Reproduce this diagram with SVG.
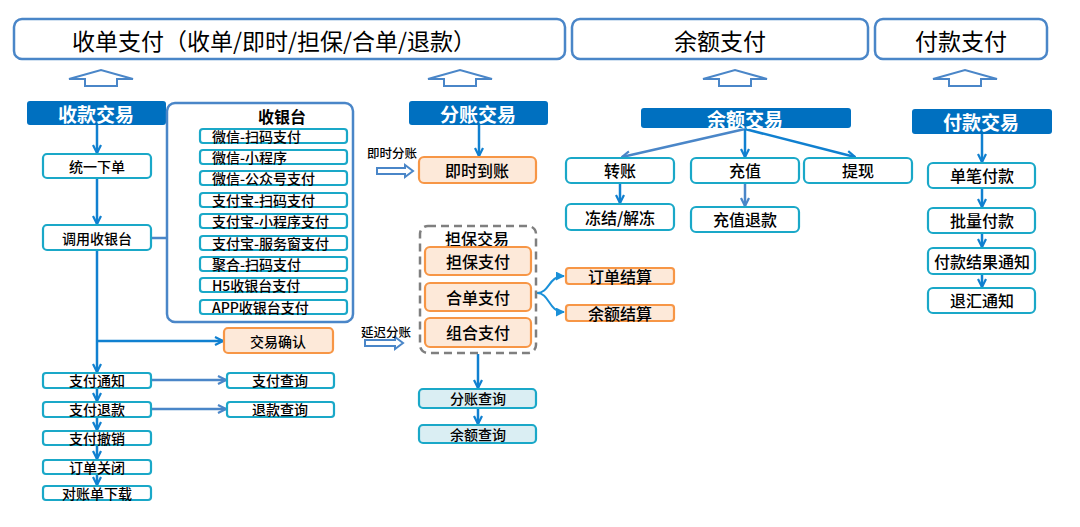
<svg xmlns="http://www.w3.org/2000/svg" width="1080" height="527" viewBox="0 0 1080 527">
<defs>
<style>
text{font-family:"Noto Sans CJK SC","Noto Sans",sans-serif;fill:#000;text-anchor:middle;dominant-baseline:central}
.title{fill:#fff;stroke:#4a86c8;stroke-width:2.5}
.tt{font-size:23px}
.up{fill:#fff;stroke:#4a86c8;stroke-width:2;stroke-linejoin:miter}
.hdr{fill:#0070c0}
.ht{fill:#fff;font-size:19px;font-weight:bold}
.node{fill:#fff;stroke:#1aa8c8;stroke-width:2.2}
.org{fill:#fde9d9;stroke:#f79646;stroke-width:2.2}
.qry{fill:#daeef3;stroke:#1aa8c8;stroke-width:2.2}
.s14{font-size:14px;font-weight:500}
.s16{font-size:16px;font-weight:500}
.s12{font-size:12.5px;font-weight:500}
.main{fill:none;stroke:#1080d0;stroke-width:2.5}
.br{fill:none;stroke:#4a86c8;stroke-width:2.5}
.cv{fill:none;stroke:#1a90d8;stroke-width:2}
.hol{fill:#fff;stroke:#4a86c8;stroke-width:2}
</style>
<marker id="am" viewBox="0 0 10 10" refX="9" refY="5" markerWidth="10" markerHeight="10" markerUnits="userSpaceOnUse" orient="auto">
<path d="M1,1 L9,5 L1,9" fill="none" stroke="#1080d0" stroke-width="2.2"/>
</marker>
<marker id="ab" viewBox="0 0 10 10" refX="9" refY="5" markerWidth="10" markerHeight="10" markerUnits="userSpaceOnUse" orient="auto">
<path d="M1,1 L9,5 L1,9" fill="none" stroke="#4a86c8" stroke-width="2.2"/>
</marker>
<marker id="ac" viewBox="0 0 10 10" refX="9" refY="5" markerWidth="9" markerHeight="9" markerUnits="userSpaceOnUse" orient="auto">
<path d="M0,0 L10,5 L0,10 Z" fill="#1a90d8"/>
</marker>
</defs>

<g id="top-titles">
<g id="title-shoudan"><rect class="title" x="14" y="19" width="551" height="40" rx="8"/><text class="tt" x="274" y="40">收单支付（收单/即时/担保/合单/退款）</text></g>
<g id="title-yue"><rect class="title" x="572" y="19" width="296" height="40" rx="8"/><text class="tt" x="720" y="40">余额支付</text></g>
<g id="title-fukuan"><rect class="title" x="875" y="19" width="172" height="40" rx="8"/><text class="tt" x="961" y="40">付款支付</text></g>
</g>

<g id="up-arrows">
<path class="up" d="M69,79 L101,70 L133,79 L117,79 L117,86 L85,86 L85,79 Z"/>
<path class="up" d="M428,79 L460,70 L492,79 L476,79 L476,86 L444,86 L444,79 Z"/>
<path class="up" d="M703,79 L735,70 L767,79 L751,79 L751,86 L719,86 L719,79 Z"/>
<path class="up" d="M933,79 L965,70 L997,79 L981,79 L981,86 L949,86 L949,79 Z"/>
</g>

<g id="connectors">
<line class="main" x1="97" y1="125" x2="97" y2="153" marker-end="url(#am)"/>
<line class="main" x1="97" y1="178" x2="97" y2="224" marker-end="url(#am)"/>
<line class="main" x1="97" y1="250" x2="97" y2="372" marker-end="url(#am)"/>
<line class="main" x1="97" y1="341" x2="223" y2="341" marker-end="url(#am)"/>
<line class="main" x1="97" y1="388" x2="97" y2="401" marker-end="url(#am)"/>
<line class="main" x1="97" y1="417" x2="97" y2="430" marker-end="url(#am)"/>
<line class="main" x1="97" y1="445" x2="97" y2="459" marker-end="url(#am)"/>
<line class="main" x1="97" y1="474" x2="97" y2="485" marker-end="url(#am)"/>
<line class="br" x1="151" y1="380" x2="226" y2="380" marker-end="url(#ab)"/>
<line class="br" x1="151" y1="409" x2="226" y2="409" marker-end="url(#ab)"/>
<path class="br" d="M151,238 L175,238 M175,136 L175,307"/>
<line class="br" x1="175" y1="136" x2="199" y2="136" marker-end="url(#ab)"/>
<line class="br" x1="175" y1="157" x2="199" y2="157" marker-end="url(#ab)"/>
<line class="br" x1="175" y1="178" x2="199" y2="178" marker-end="url(#ab)"/>
<line class="br" x1="175" y1="200" x2="199" y2="200" marker-end="url(#ab)"/>
<line class="br" x1="175" y1="221" x2="199" y2="221" marker-end="url(#ab)"/>
<line class="br" x1="175" y1="243" x2="199" y2="243" marker-end="url(#ab)"/>
<line class="br" x1="175" y1="264" x2="199" y2="264" marker-end="url(#ab)"/>
<line class="br" x1="175" y1="285" x2="199" y2="285" marker-end="url(#ab)"/>
<line class="br" x1="175" y1="307" x2="199" y2="307" marker-end="url(#ab)"/>
<line class="main" x1="479" y1="125" x2="479" y2="156" marker-end="url(#am)"/>
<line class="main" x1="478" y1="354" x2="478" y2="388" marker-end="url(#am)"/>
<line class="main" x1="478" y1="408" x2="478" y2="424" marker-end="url(#am)"/>
<path class="cv" d="M537,293 C550,293 548,276 564,276" marker-end="url(#ac)"/>
<path class="cv" d="M537,293 C550,293 548,312 564,312" marker-end="url(#ac)"/>
<line class="br" x1="745" y1="129" x2="622" y2="157" marker-end="url(#ab)"/>
<line class="main" x1="745" y1="129" x2="745" y2="157" marker-end="url(#am)"/>
<line class="main" x1="745" y1="129" x2="855" y2="157" marker-end="url(#am)"/>
<line class="main" x1="620" y1="183" x2="620" y2="203" marker-end="url(#am)"/>
<line class="br" x1="745" y1="183" x2="745" y2="206" marker-end="url(#ab)"/>
<line class="main" x1="982" y1="134" x2="982" y2="162" marker-end="url(#am)"/>
<line class="main" x1="982" y1="188" x2="982" y2="207" marker-end="url(#am)"/>
<line class="main" x1="982" y1="233" x2="982" y2="247" marker-end="url(#am)"/>
<line class="main" x1="982" y1="274" x2="982" y2="287" marker-end="url(#am)"/>
<path class="hol" d="M377,168 L405,168 L405,165 L413,171 L405,177 L405,174 L377,174 Z"/>
<path class="hol" d="M365,340 L395,340 L395,337 L403,343 L395,349 L395,346 L365,346 Z"/>
</g>

<g id="labels">
<text class="s12" x="392" y="152">即时分账</text>
<text class="s12" x="386" y="331">延迟分账</text>
</g>

<g id="shoukuan-header"><rect class="hdr" x="27" y="101" width="139" height="24" rx="3"/><text class="ht" x="96" y="113">收款交易</text></g>
<g id="n-tongyi"><rect class="node" x="43" y="154" width="108" height="24" rx="4"/><text class="s14" x="97" y="166">统一下单</text></g>
<g id="n-diaoyong"><rect class="node" x="43" y="225" width="108" height="25" rx="4"/><text class="s14" x="97" y="238">调用收银台</text></g>

<g id="cashier">
<rect fill="#fff" stroke="#4a86c8" stroke-width="2.5" x="167" y="103" width="186" height="219" rx="8"/>
<text x="282" y="116" style="font-size:16px;font-weight:bold">收银台</text>
<g id="c1"><rect class="node" x="200" y="129" width="147" height="14" rx="3"/><text class="s14" x="212" y="136" style="text-anchor:start">微信-扫码支付</text></g>
<g id="c2"><rect class="node" x="200" y="150" width="147" height="14" rx="3"/><text class="s14" x="212" y="157" style="text-anchor:start">微信-小程序</text></g>
<g id="c3"><rect class="node" x="200" y="171" width="147" height="14" rx="3"/><text class="s14" x="212" y="178" style="text-anchor:start">微信-公众号支付</text></g>
<g id="c4"><rect class="node" x="200" y="193" width="147" height="14" rx="3"/><text class="s14" x="212" y="200" style="text-anchor:start">支付宝-扫码支付</text></g>
<g id="c5"><rect class="node" x="200" y="214" width="147" height="14" rx="3"/><text class="s14" x="212" y="221" style="text-anchor:start">支付宝-小程序支付</text></g>
<g id="c6"><rect class="node" x="200" y="236" width="147" height="14" rx="3"/><text class="s14" x="212" y="243" style="text-anchor:start">支付宝-服务窗支付</text></g>
<g id="c7"><rect class="node" x="200" y="257" width="147" height="14" rx="3"/><text class="s14" x="212" y="264" style="text-anchor:start">聚合-扫码支付</text></g>
<g id="c8"><rect class="node" x="200" y="278" width="147" height="14" rx="3"/><text class="s14" x="212" y="285" style="text-anchor:start">H5收银台支付</text></g>
<g id="c9"><rect class="node" x="200" y="300" width="147" height="14" rx="3"/><text class="s14" x="212" y="307" style="text-anchor:start">APP收银台支付</text></g>
</g>

<g id="n-queren"><rect class="org" x="224" y="328" width="109" height="25" rx="4"/><text class="s14" x="278" y="341">交易确认</text></g>
<g id="n-tongzhi"><rect class="node" x="43" y="373" width="108" height="15" rx="3"/><text class="s14" x="97" y="380">支付通知</text></g>
<g id="n-tuikuan"><rect class="node" x="43" y="402" width="108" height="15" rx="3"/><text class="s14" x="97" y="409">支付退款</text></g>
<g id="n-chexiao"><rect class="node" x="43" y="431" width="108" height="14" rx="3"/><text class="s14" x="97" y="438">支付撤销</text></g>
<g id="n-guanbi"><rect class="node" x="43" y="460" width="108" height="14" rx="3"/><text class="s14" x="97" y="467">订单关闭</text></g>
<g id="n-duizhang"><rect class="node" x="43" y="486" width="108" height="14" rx="3"/><text class="s14" x="97" y="493">对账单下载</text></g>
<g id="n-zfcx"><rect class="node" x="227" y="373" width="107" height="15" rx="3"/><text class="s14" x="280" y="380">支付查询</text></g>
<g id="n-tkcx"><rect class="node" x="227" y="402" width="107" height="15" rx="3"/><text class="s14" x="280" y="409">退款查询</text></g>

<g id="fenzhang-header"><rect class="hdr" x="409" y="101" width="139" height="24" rx="3"/><text class="ht" x="478" y="113">分账交易</text></g>
<g id="n-jishi"><rect class="org" x="419" y="157" width="117" height="26" rx="5" stroke-width="1.8"/><text class="s16" x="477" y="170">即时到账</text></g>
<g id="danbao-group">
<rect fill="none" stroke="#7f7f7f" stroke-width="2.5" stroke-dasharray="8,5" x="420" y="226" width="116" height="127" rx="8"/>
<text class="s16" x="477" y="238">担保交易</text>
<g id="n-dbzf"><rect class="org" x="425" y="247" width="106" height="28" rx="5" stroke-width="2.5"/><text class="s16" x="478" y="261">担保支付</text></g>
<g id="n-hdzf"><rect class="org" x="425" y="283" width="106" height="28" rx="5" stroke-width="2.5"/><text class="s16" x="478" y="297">合单支付</text></g>
<g id="n-zhzf"><rect class="org" x="425" y="318" width="106" height="29" rx="5" stroke-width="2.5"/><text class="s16" x="478" y="332">组合支付</text></g>
</g>
<g id="n-ddjs"><rect class="org" x="566" y="268" width="108" height="16" rx="3"/><text class="s16" x="620" y="276">订单结算</text></g>
<g id="n-yejs"><rect class="org" x="566" y="305" width="108" height="16" rx="3"/><text class="s16" x="620" y="313">余额结算</text></g>
<g id="n-fzcx"><rect class="qry" x="419" y="389" width="117" height="19" rx="4"/><text class="s14" x="478" y="398">分账查询</text></g>
<g id="n-yecx"><rect class="qry" x="419" y="425" width="117" height="18" rx="4"/><text class="s14" x="478" y="434">余额查询</text></g>

<g id="yue-header"><rect class="hdr" x="641" y="108" width="210" height="20" rx="3"/><text class="ht" x="745" y="118">余额交易</text></g>
<g id="n-zhuanzhang"><rect class="node" x="566" y="158" width="108" height="25" rx="5"/><text class="s16" x="620" y="170">转账</text></g>
<g id="n-chongzhi"><rect class="node" x="691" y="158" width="108" height="25" rx="5"/><text class="s16" x="745" y="170">充值</text></g>
<g id="n-tixian"><rect class="node" x="804" y="158" width="108" height="25" rx="5"/><text class="s16" x="858" y="170">提现</text></g>
<g id="n-dongjie"><rect class="node" x="566" y="204" width="108" height="26" rx="5"/><text class="s16" x="620" y="217">冻结/解冻</text></g>
<g id="n-czk"><rect class="node" x="691" y="207" width="108" height="25" rx="5"/><text class="s16" x="745" y="219">充值退款</text></g>

<g id="fukuan-header"><rect class="hdr" x="912" y="109" width="140" height="25" rx="3"/><text class="ht" x="981" y="121">付款交易</text></g>
<g id="n-danbi"><rect class="node" x="928" y="163" width="107" height="25" rx="5"/><text class="s16" x="982" y="175">单笔付款</text></g>
<g id="n-piliang"><rect class="node" x="928" y="208" width="107" height="25" rx="5"/><text class="s16" x="982" y="220">批量付款</text></g>
<g id="n-jieguo"><rect class="node" x="928" y="248" width="107" height="26" rx="5"/><text class="s16" x="982" y="261">付款结果通知</text></g>
<g id="n-tuihui"><rect class="node" x="928" y="288" width="107" height="25" rx="5"/><text class="s16" x="982" y="300">退汇通知</text></g>
</svg>
